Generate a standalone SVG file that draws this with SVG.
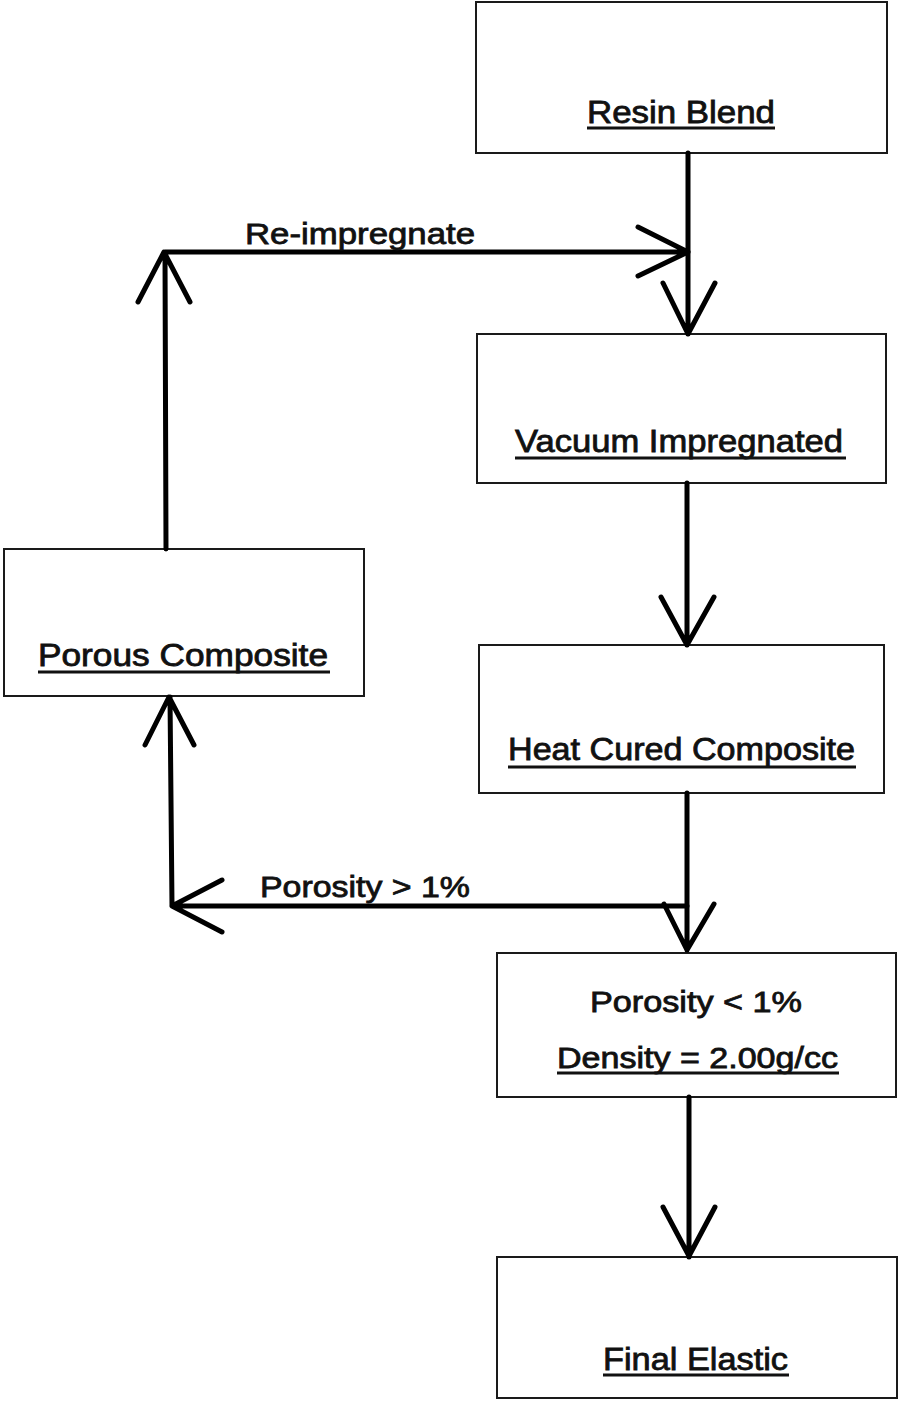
<svg xmlns="http://www.w3.org/2000/svg" width="900" height="1402" viewBox="0 0 900 1402">
<style>
.box{fill:#fff;stroke:#1a1a1a;stroke-width:2}
.t{font-family:"Liberation Sans",Arial,sans-serif;font-weight:normal;font-size:31px;fill:#111;stroke:#111;stroke-width:0.8}
.ul{stroke:#111;stroke-width:3}
.c{fill:none;stroke:#000;stroke-width:5;stroke-linecap:round;stroke-linejoin:round}
</style>
<rect width="900" height="1402" fill="#fff"/>
<g id="resin-blend">
<rect class="box" x="476" y="2" width="411" height="151"/>
<text class="t" x="587" y="123" textLength="188" lengthAdjust="spacingAndGlyphs">Resin Blend</text>
<line class="ul" x1="587" y1="128" x2="775" y2="128"/>
</g>
<g id="vacuum-impregnated">
<rect class="box" x="477" y="334" width="409" height="149"/>
<text class="t" x="515" y="452" textLength="328" lengthAdjust="spacingAndGlyphs">Vacuum Impregnated</text>
<line class="ul" x1="515" y1="458" x2="846" y2="458"/>
</g>
<g id="heat-cured-composite">
<rect class="box" x="479" y="645" width="405" height="148"/>
<text class="t" x="508" y="760" textLength="347" lengthAdjust="spacingAndGlyphs">Heat Cured Composite</text>
<line class="ul" x1="508" y1="767" x2="856" y2="767"/>
</g>
<g id="porous-composite">
<rect class="box" x="4" y="549" width="360" height="147"/>
<text class="t" x="38" y="666" textLength="290" lengthAdjust="spacingAndGlyphs">Porous Composite</text>
<line class="ul" x1="38" y1="672" x2="330" y2="672"/>
</g>
<g id="porosity-density">
<rect class="box" x="497" y="953" width="399" height="144"/>
<text class="t" x="590" y="1012" textLength="212" lengthAdjust="spacingAndGlyphs" style="font-size:29px">Porosity &lt; 1%</text>
<text class="t" x="557" y="1068" textLength="281" lengthAdjust="spacingAndGlyphs" style="font-size:29px">Density = 2.00g/cc</text>
<line class="ul" x1="557" y1="1073" x2="839" y2="1073"/>
</g>
<g id="final-elastic">
<rect class="box" x="497" y="1257" width="400" height="141"/>
<text class="t" x="603" y="1370" textLength="185" lengthAdjust="spacingAndGlyphs">Final Elastic</text>
<line class="ul" x1="603" y1="1375" x2="789" y2="1375"/>
</g>
<g id="connectors">
<path class="c" d="M688 153 V334 M663 283 L688 334 L715 283"/>
<path class="c" d="M166 549 L165 252 H688 M638 227 L688 252 L638 276 M138 302 L164 252 L190 302"/>
<path class="c" d="M687 483 V645 M661 597 L687 645 L714 597"/>
<path class="c" d="M687 793 V950 M664 904 L687 950 L714 904"/>
<path class="c" d="M687 906 H172 L170 697 M222 880 L172 906 L222 932 M145 745 L169 697 L194 745"/>
<path class="c" d="M689 1097 V1257 M663 1207 L689 1256 L715 1207"/>
<text class="t" x="245" y="244" textLength="230" lengthAdjust="spacingAndGlyphs" style="font-size:30px">Re-impregnate</text>
<text class="t" x="260" y="897" textLength="210" lengthAdjust="spacingAndGlyphs" style="font-size:29px">Porosity &gt; 1%</text>
</g>
</svg>
